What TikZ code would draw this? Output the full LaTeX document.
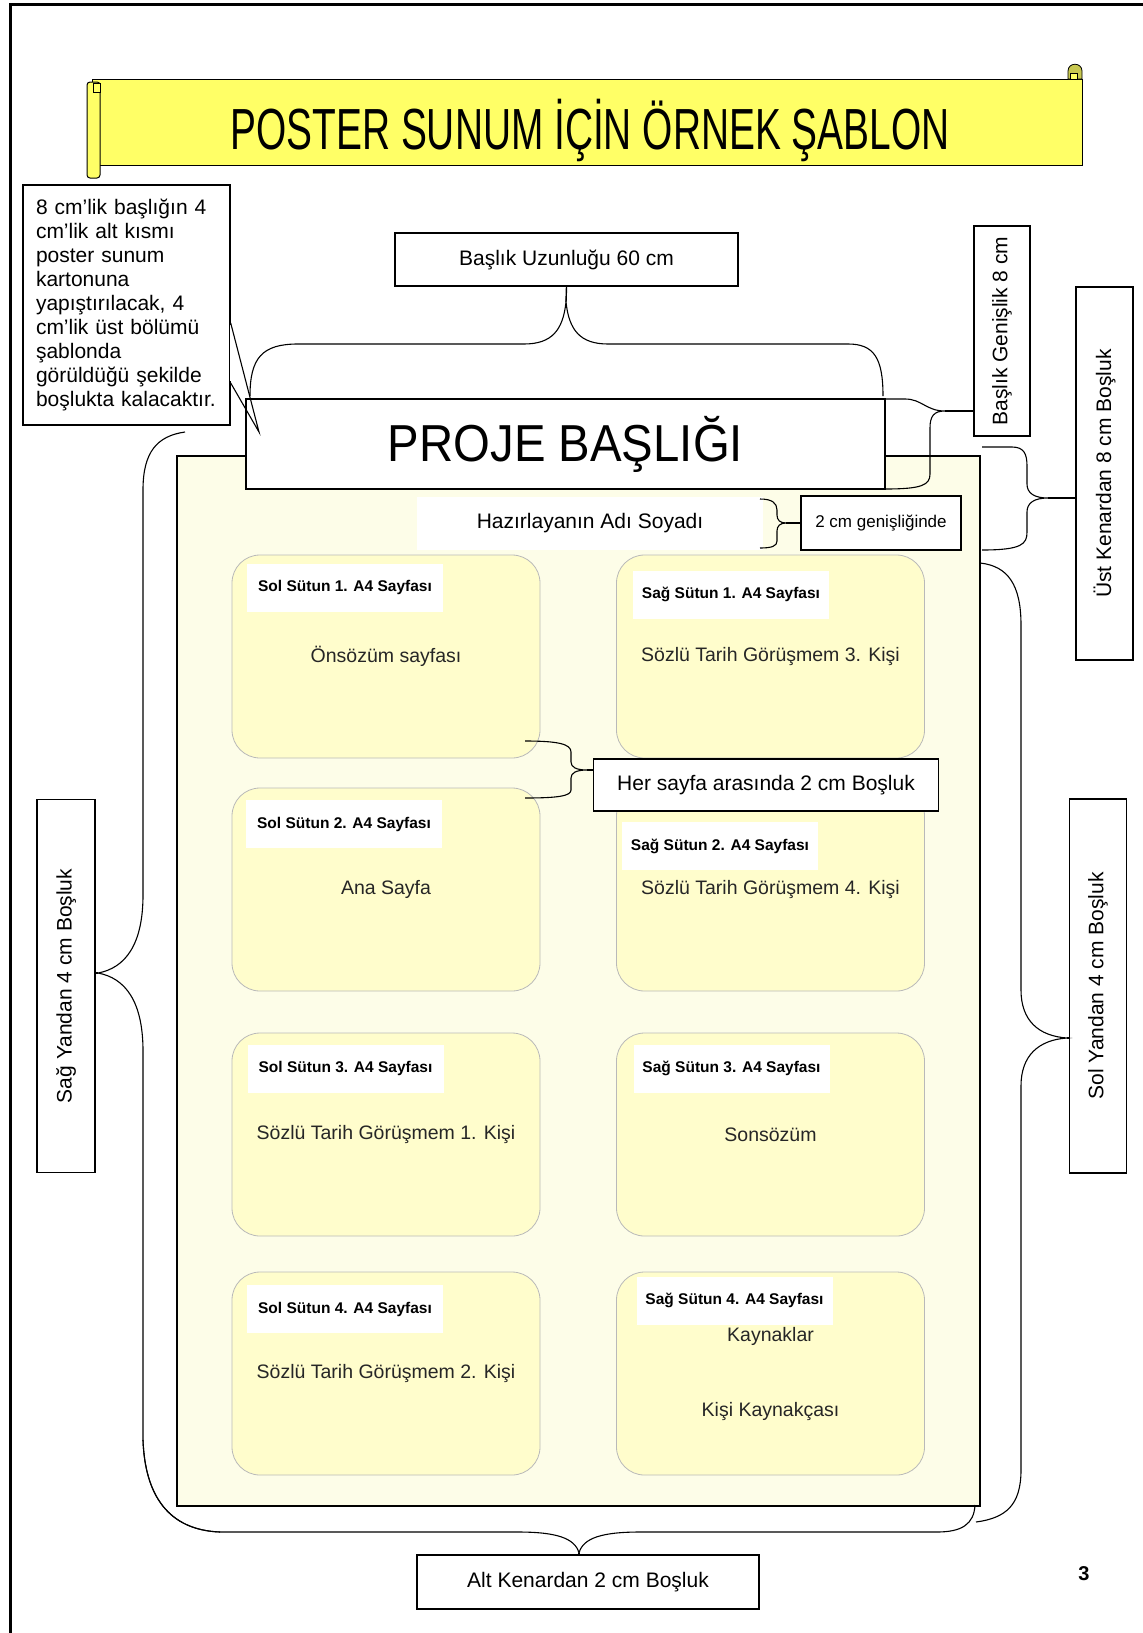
\documentclass[tikz,border=0pt]{standalone}
\usepackage{fontspec}
\setmainfont{Liberation Sans}
\usepackage{graphicx}
\usetikzlibrary{positioning, calc}

\definecolor{BannerYellow}{HTML}{FFFF66}
\definecolor{KnobOlive}{HTML}{C8C850}
\definecolor{PosterCream}{HTML}{FDFDE8}
\definecolor{PageYellow}{HTML}{FFFDCC}

\newcommand{\notefont}{\fontsize{21}{24}\selectfont}
\newcommand{\pagefont}{\fontsize{19.5}{22}\selectfont}
\newcommand{\tagfont}{\fontsize{15.5}{17}\selectfont\bfseries}

\tikzset{
    % labelled boxes round the poster
    note box/.style={
        rectangle,
        draw=black,
        fill=white,
        line width=1.4pt,
        inner sep=0pt,
        align=center,
        font=\notefont
    },
    side box/.style={
        note box,
        rotate=90
    },
    % A4 pages on the poster
    page box/.style={
        rectangle,
        rounded corners=28pt,
        draw=gray!55,
        line width=0.8pt,
        fill=PageYellow,
        minimum width=308pt,
        minimum height=203pt,
        align=center,
        font=\pagefont,
        text=black!85
    },
    page tag/.style={
        rectangle,
        fill=white,
        minimum width=196pt,
        minimum height=48pt,
        inner sep=0pt,
        font=\tagfont
    },
    brace line/.style={
        draw=black,
        line width=1.1pt
    },
    link line/.style={
        draw=black,
        line width=1.4pt
    }
}

\begin{document}
\begin{tikzpicture}[x=1pt, y=-1pt]
    \useasboundingbox (0,0) rectangle (1143,1633);
    % page frame
    \draw[line width=3pt] (10,1640) -- (10,4) -- (1150,4);

    % banner
    \draw[fill=BannerYellow, line width=1pt] (92,79) rectangle (1082,165);
    \draw[fill=KnobOlive, line width=0.8pt] (1068,79) -- (1068,71) .. controls (1068,62) and (1082,62) .. (1082,71) -- (1082,79) -- cycle;
    \draw[fill=BannerYellow, line width=0.8pt] (1070,73) rectangle (1077,79);
    \draw[fill=BannerYellow, line width=1pt, rounded corners=3pt] (87,82) rectangle (100,178);
    \draw[fill=BannerYellow, line width=0.8pt] (93,83) rectangle (100,92);
    \node (bannertitle) at (590,130) {\scalebox{0.67}[1]{\fontsize{58}{60}\selectfont POSTER SUNUM İÇİN ÖRNEK ŞABLON}};

    % poster area
    \node[draw=black, line width=1.3pt, fill=PosterCream, minimum width=803pt, minimum height=1050pt] (poster) at (578.5,981) {};

    % pages
    \node[page box] (sol1) at (386,656.5) {Önsözüm sayfası};
    \node[page box] (sag1) at (770.5,656.5) {Sözlü Tarih Görüşmem 3. Kişi};
    \node[page box] (sol2) at (386,889.5) {Ana Sayfa};
    \node[page box] (sag2) at (770.5,889.5) {Sözlü Tarih Görüşmem 4. Kişi};
    \node[page box] (sol3) at (386,1134.5) {Sözlü Tarih Görüşmem 1. Kişi};
    \node[page box] (sag3) at (770.5,1134.5) {Sonsözüm};
    \node[page box] (sol4) at (386,1373.5) {Sözlü Tarih Görüşmem 2. Kişi};
    \node[page box] (sag4) at (770.5,1373.5) {Kaynaklar\\[53pt]Kişi Kaynakçası};

    \node[page tag] (sol1tag) at (345,587.5) {Sol Sütun 1. A4 Sayfası};
    \node[page tag] (sag1tag) at (731,594.5) {Sağ Sütun 1. A4 Sayfası};
    \node[page tag] (sol2tag) at (344,824) {Sol Sütun 2. A4 Sayfası};
    \node[page tag] (sag2tag) at (720,846) {Sağ Sütun 2. A4 Sayfası};
    \node[page tag] (sol3tag) at (345.5,1068.5) {Sol Sütun 3. A4 Sayfası};
    \node[page tag] (sag3tag) at (731.5,1068.5) {Sağ Sütun 3. A4 Sayfası};
    \node[page tag] (sol4tag) at (345,1309) {Sol Sütun 4. A4 Sayfası};
    \node[page tag] (sag4tag) at (734.5,1300.5) {Sağ Sütun 4. A4 Sayfası};

    % title and author
    \node[note box, minimum width=639pt, minimum height=90pt, font=\fontsize{52}{54}\selectfont] (projetitle) at (565.5,444) {\scalebox{0.91}[1]{PROJE BAŞLIĞI}};
    \node[note box, draw=none, minimum width=346pt, minimum height=53pt] (author) at (590,523.5) {Hazırlayanın Adı Soyadı};
    \node[note box, minimum width=160pt, minimum height=54pt, font=\fontsize{17}{19}\selectfont] (authorwidth) at (881,523) {2 cm genişliğinde};
    \node[note box, minimum width=345pt, minimum height=52pt] (pagegap) at (766,785) {Her sayfa arasında 2 cm Boşluk};

    % labels round the poster
    \node[note box, minimum width=343pt, minimum height=53pt] (titlelength) at (566.5,259.5) {Başlık Uzunluğu 60 cm};
    \node[side box, minimum width=210pt, minimum height=56pt] (titlewidth) at (1002,331) {Başlık Genişlik 8 cm};
    \node[side box, minimum width=373pt, minimum height=57pt] (topmargin) at (1104.5,473.5) {Üst Kenardan 8 cm Boşluk};
    \node[side box, minimum width=374pt, minimum height=57pt] (solmargin) at (1098,986) {Sol Yandan 4 cm Boşluk};
    \node[side box, minimum width=373pt, minimum height=58pt] (sagmargin) at (66,986) {Sağ Yandan 4 cm Boşluk};
    \node[note box, minimum width=342pt, minimum height=54pt] (bottommargin) at (588,1582) {Alt Kenardan 2 cm Boşluk};
    \node[font=\fontsize{20}{22}\selectfont\bfseries] (pagenum) at (1084,1574) {3};

    % callout
    \node[note box, minimum width=207pt, minimum height=240pt, text width=181pt, inner xsep=13pt, align=left] (callout) at (126.5,305) {8 cm’lik başlığın 4\\cm’lik alt kısmı\\poster sunum\\kartonuna\\yapıştırılacak, 4\\cm’lik üst bölümü\\şablonda\\görüldüğü şekilde\\boşlukta kalacaktır.};
    \coordinate (callouttip) at (259,432);
    \draw[white, line width=2pt] (callout.east |- 0,325) -- (callout.east |- 0,381);
    \draw[line width=1.1pt] (callout.east |- 0,323) -- (callouttip) -- (callout.east |- 0,383);

    % braces
    \coordinate (lengthtip) at (566,302);
    \draw[brace line] (250,396) .. controls (250,358) and (262,344) .. (298,344) -- (524,344) .. controls (552,344) and (563,330) .. (lengthtip) .. controls (569,330) and (580,344) .. (608,344) -- (848,344) .. controls (874,344) and (883,358) .. (883,396);
    \draw[link line] (lengthtip) -- (titlelength.south);

    \coordinate (widthtip) at (945,411);
    \draw[brace line] (885,399) -- (905,399) .. controls (922,399) and (926,411) .. (widthtip) .. controls (934,411) and (930,416) .. (930,428) -- (930,474) .. controls (930,485) and (922,489) .. (885,489);
    \draw[link line] (widthtip) -- (widthtip -| titlewidth.north);

    \coordinate (toptip) at (1048,498);
    \draw[brace line] (982,447) -- (1012,447) .. controls (1024,447) and (1027,454) .. (1027,466) -- (1027,484) .. controls (1027,493) and (1034,498) .. (toptip) .. controls (1034,498) and (1027,503) .. (1027,512) -- (1027,532) .. controls (1027,544) and (1022,550) .. (982,550);
    \draw[link line] (toptip) -- (toptip -| topmargin.north);

    \coordinate (authortip) at (786,523);
    \draw[brace line] (760,499) .. controls (772,499) and (777,503) .. (777,510) -- (777,515) .. controls (777,520) and (780,523) .. (authortip) .. controls (780,523) and (777,526) .. (777,531) -- (777,541) .. controls (777,546) and (772,548) .. (760,548);
    \draw[link line] (authortip) -- (authorwidth.west);

    \coordinate (gaptip) at (587,770);
    \draw[brace line] (525,741) .. controls (558,741) and (571,744) .. (571,752) -- (571,762) .. controls (571,767) and (576,770) .. (gaptip) .. controls (576,770) and (571,773) .. (571,778) -- (571,790) .. controls (571,796) and (558,798) .. (525,798);
    \draw[link line] (gaptip) -- (gaptip -| pagegap.west);

    \coordinate (soltip) at (1067,1038);
    \draw[brace line] (980,563) .. controls (1008,566) and (1021,585) .. (1021,625) -- (1021,990) .. controls (1021,1020) and (1038,1036) .. (soltip) .. controls (1038,1040) and (1021,1056) .. (1021,1086) -- (1021,1470) .. controls (1021,1505) and (1006,1518) .. (976,1522);
    \draw[link line] (soltip) -- (soltip -| solmargin.north);

    \coordinate (sagtip) at (98,973);
    \draw[brace line] (185,432) .. controls (157,436) and (143,452) .. (143,490) -- (143,895) .. controls (143,945) and (125,968) .. (sagtip) .. controls (125,978) and (143,1001) .. (143,1051) -- (143,1440) .. controls (145,1495) and (168,1530) .. (220,1532);
    \draw[link line] (sagtip) -- (sagtip -| sagmargin.south);

    \coordinate (bottomtip) at (579,1553);
    \draw[brace line] (143,1440) .. controls (145,1495) and (168,1530) .. (220,1532) -- (518,1532) .. controls (556,1532) and (575,1538) .. (bottomtip) .. controls (583,1538) and (602,1532) .. (640,1532) -- (937,1532) .. controls (962,1532) and (974,1524) .. (975,1505);
    \draw[link line] (bottomtip) -- (bottomtip |- bottommargin.north);
\end{tikzpicture}
\end{document}
